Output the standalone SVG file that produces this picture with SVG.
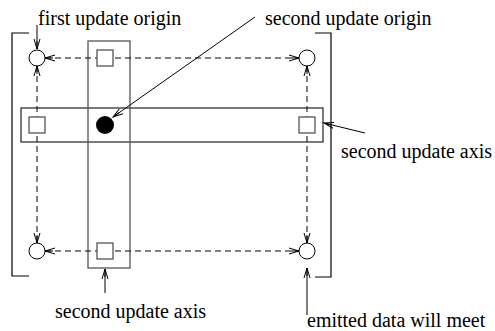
<svg xmlns="http://www.w3.org/2000/svg" width="495" height="331" viewBox="0 0 495 331">
  <style>
    .lbl { font-family: "Liberation Serif", "Times New Roman", serif; font-size: 20px; fill: #000; }
    .dash { stroke: #000; stroke-width: 1; stroke-dasharray: 6 4; fill: none; }
    .lead { stroke: #000; stroke-width: 1; fill: none; }
    .node { fill: #fff; stroke: #000; stroke-width: 1; }
    .cell { fill: #fff; stroke: #555; stroke-width: 1.3; }
    .bracket { fill: none; stroke: #000; stroke-width: 1.2; }
  </style>
  <defs>
    <marker id="vhead" markerWidth="12" markerHeight="8" refX="10" refY="4" orient="auto-start-reverse" markerUnits="userSpaceOnUse">
      <path d="M0,1 L10,4 L0,7 M2,4 L10,4" fill="none" stroke="#000" stroke-width="1"/>
    </marker>
  </defs>

  <rect width="495" height="331" fill="#fff"/>

  <!-- outer brackets -->
  <g id="brackets">
    <path class="bracket" d="M29,33 H12 V276 H29"/>
    <path class="bracket" d="M315,33 H331 V277 H315"/>
  </g>

  <!-- axis strips -->
  <g id="row-axis">
    <rect x="21" y="108" width="302" height="34" fill="none" stroke="#222" stroke-width="1.2"/>
  </g>
  <g id="column-axis">
    <rect x="88" y="41" width="42" height="227" fill="none" stroke="#555" stroke-width="1.3"/>
  </g>

  <!-- dashed data paths between corners, arrowed both ways -->
  <g id="connectors">
    <line class="dash" x1="45" y1="58" x2="299" y2="58" marker-start="url(#vhead)" marker-end="url(#vhead)"/>
    <line class="dash" x1="45" y1="251" x2="299" y2="251" marker-start="url(#vhead)" marker-end="url(#vhead)"/>
    <line class="dash" x1="37" y1="66" x2="37" y2="243" marker-start="url(#vhead)" marker-end="url(#vhead)"/>
    <line class="dash" x1="307" y1="66" x2="307" y2="243" marker-start="url(#vhead)" marker-end="url(#vhead)"/>
  </g>

  <!-- corner nodes -->
  <g id="corner-tl"><circle class="node" cx="37" cy="58" r="8"/></g>
  <g id="corner-tr"><circle class="node" cx="307" cy="58" r="8"/></g>
  <g id="corner-bl"><circle class="node" cx="37" cy="251" r="8"/></g>
  <g id="corner-br"><circle class="node" cx="307" cy="251" r="8"/></g>

  <!-- cells on the axes -->
  <g id="cell-top"><rect class="cell" x="97" y="50" width="16" height="16"/></g>
  <g id="cell-bottom"><rect class="cell" x="97" y="243" width="16" height="16"/></g>
  <g id="cell-left"><rect class="cell" x="29" y="117" width="16" height="16"/></g>
  <g id="cell-right"><rect class="cell" x="299" y="117" width="16" height="16"/></g>

  <!-- second origin -->
  <g id="origin-2"><circle cx="105" cy="125" r="9" fill="#000"/></g>

  <!-- labels with leader arrows -->
  <g id="label-first-origin">
    <text class="lbl" x="38" y="25">first update origin</text>
    <line class="lead" x1="37" y1="25" x2="37" y2="49" marker-end="url(#vhead)"/>
  </g>
  <g id="label-second-origin">
    <text class="lbl" x="265" y="25">second update origin</text>
    <line class="lead" x1="255" y1="17" x2="113" y2="117" marker-end="url(#vhead)"/>
  </g>
  <g id="label-row-axis">
    <text class="lbl" x="341" y="158">second update axis</text>
    <line class="lead" x1="365" y1="133" x2="324" y2="123" marker-end="url(#vhead)"/>
  </g>
  <g id="label-column-axis">
    <text class="lbl" x="55" y="318">second update axis</text>
    <line class="lead" x1="105" y1="293" x2="105" y2="269" marker-end="url(#vhead)"/>
  </g>
  <g id="label-meet">
    <text class="lbl" x="307" y="327">emitted data will meet</text>
    <line class="lead" x1="307" y1="315" x2="307" y2="268" marker-end="url(#vhead)"/>
  </g>
</svg>
